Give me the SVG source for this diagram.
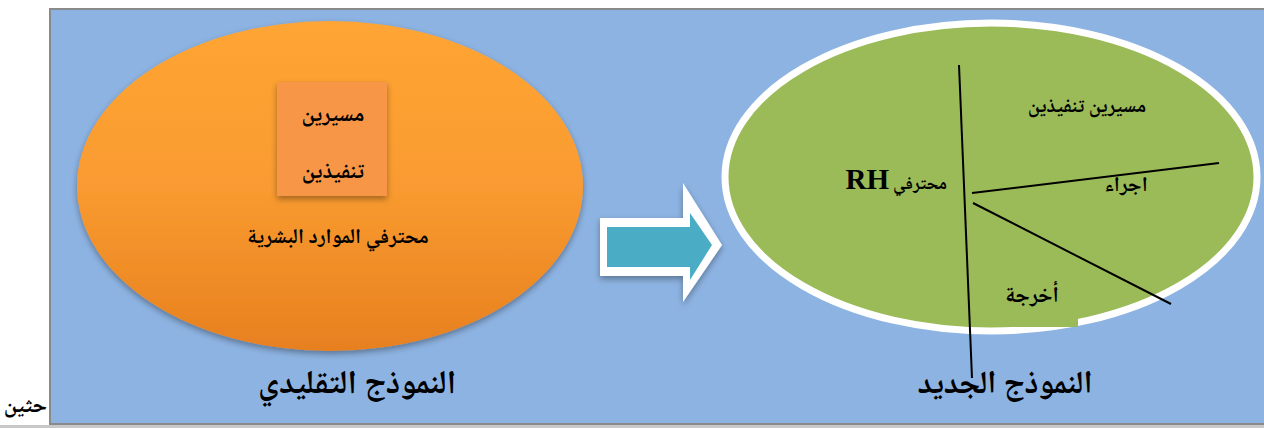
<svg xmlns="http://www.w3.org/2000/svg" width="1264" height="428" viewBox="0 0 1264 428">
  <style>
    .ar { font-family: "Noto Naskh Arabic", "Noto Sans Arabic", "DejaVu Sans", serif; font-weight: bold; fill: #000; }
    .lat { font-family: "Liberation Serif", serif; font-weight: bold; fill: #000; }
    .line { stroke: #000; stroke-width: 2; fill: none; }
  </style>
  <defs>
    <linearGradient id="orangeGrad" x1="0" y1="0" x2="0" y2="1">
      <stop offset="0" stop-color="#FFA534"/>
      <stop offset="0.5" stop-color="#F99B30"/>
      <stop offset="1" stop-color="#E7801F"/>
    </linearGradient>
    <filter id="shadow" x="-10%" y="-10%" width="120%" height="130%">
      <feDropShadow dx="0" dy="3" stdDeviation="3" flood-color="#000" flood-opacity="0.35"/>
    </filter>
  </defs>

  <!-- page fragment left of the slide -->
  <text class="ar" x="47" y="412" font-size="22" text-anchor="end">حثين</text>

  <!-- slide background -->
  <rect x="0" y="425" width="1264" height="3" fill="#C8C8C8"/>
  <rect x="50" y="9" width="1220" height="415" fill="#8DB3E2" stroke="#8A8A8A" stroke-width="2"/>

  <!-- traditional model -->
  <g id="traditional">
    <ellipse cx="330" cy="186" rx="253" ry="165" fill="url(#orangeGrad)" filter="url(#shadow)"/>
    <rect x="277" y="82" width="110" height="114" fill="#F79646" filter="url(#shadow)"/>
    <text class="ar" x="333" y="121" font-size="22" text-anchor="middle">مسيرين</text>
    <text class="ar" x="333" y="178" font-size="22" text-anchor="middle">تنفيذين</text>
    <text class="ar" x="338" y="243" font-size="21" text-anchor="middle">محترفي الموارد البشرية</text>
  </g>

  <!-- transition arrow -->
  <g id="arrow">
    <polygon points="600,218 683,218 683,183 722,245 683,302 683,276 600,276" fill="#FFFFFF" filter="url(#shadow)"/>
    <polygon points="607,227 690,227 690,213 712,245 690,280 690,267 607,267" fill="#4BACC6"/>
  </g>

  <!-- new model -->
  <g id="new-model">
    <ellipse cx="991" cy="177" rx="266" ry="154" fill="#9BBB59" stroke="#FFFFFF" stroke-width="7"/>
    <rect x="980" y="300" width="98" height="27" fill="#9BBB59"/>
    <text class="ar" x="1087" y="112" font-size="20" text-anchor="middle">مسيرين تنفيذين</text>
    <text class="ar" x="947" y="189" font-size="18" text-anchor="end">محترفي</text>
    <text class="lat" x="889" y="189" font-size="29" text-anchor="end">RH</text>
    <text class="ar" x="1126" y="191" font-size="21" text-anchor="middle">اجراء</text>
    <text class="ar" x="1032" y="302" font-size="22" text-anchor="middle">أخرجة</text>
  </g>

  <!-- dividing lines -->
  <g id="connectors">
    <line class="line" x1="959" y1="65" x2="972" y2="378"/>
    <line class="line" x1="972" y1="193" x2="1219" y2="163"/>
    <line class="line" x1="973" y1="203" x2="1171" y2="304"/>
  </g>

  <!-- captions -->
  <g id="caption-traditional">
    <text class="ar" x="357" y="393" font-size="33" text-anchor="middle">النموذج التقليدي</text>
  </g>
  <g id="caption-new">
    <text class="ar" x="1005" y="393" font-size="32" text-anchor="middle">النموذج الجديد</text>
  </g>
</svg>
